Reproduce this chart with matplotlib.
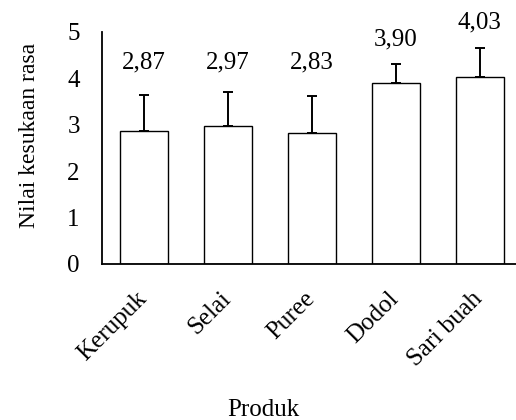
import matplotlib
matplotlib.use("Agg")
import matplotlib.pyplot as plt
import matplotlib.transforms as mtransforms
import numpy as np

plt.rcParams["font.family"] = ["Liberation Serif", "DejaVu Serif"]

produk = ["Kerupuk", "Selai", "Puree", "Dodol", "Sari buah"]
nilai = [2.87, 2.97, 2.83, 3.90, 4.03]
sd = [0.77, 0.73, 0.80, 0.41, 0.63]
label_nilai = ["2,87", "2,97", "2,83", "3,90", "4,03"]

x = np.arange(len(produk))
width = 0.57

fig = plt.figure(figsize=(5.16, 4.2), dpi=100)
ax = fig.add_axes([102 / 516, 156 / 420, 414 / 516, 232 / 420])

ax.bar(x, nilai, width, color="none", edgecolor="black", linewidth=1.0)
ax.errorbar(x, nilai, yerr=[np.zeros(len(sd)), sd], fmt="none",
            ecolor="black", elinewidth=1.4, capsize=3.6, capthick=1.4)

# value labels above the error bars
for xi, v, s, lab in zip(x, nilai, sd, label_nilai):
    ax.text(xi, max(v + s + 0.54, 4.35), lab, ha="center", va="center",
            fontsize=18)

ax.set_xlim(-0.5, 4.43)
ax.set_ylim(0, 5)
ax.set_yticks([0, 1, 2, 3, 4, 5])
ax.set_xticks(x)
ax.set_xticklabels(produk, rotation=45, ha="right", va="top", fontsize=18)

ax.tick_params(axis="both", length=0, labelsize=18)
ax.tick_params(axis="y", pad=16)
ax.tick_params(axis="x", pad=17)

# nudge the slanted labels to the right
offset = mtransforms.ScaledTranslation(7 / 100, 0, fig.dpi_scale_trans)
for t in ax.get_xticklabels():
    t.set_transform(t.get_transform() + offset)

ax.spines["top"].set_visible(False)
ax.spines["right"].set_visible(False)
ax.spines["left"].set_linewidth(1.3)
ax.spines["bottom"].set_linewidth(1.3)

fig.text(30 / 516, 1 - 135 / 420, "Nilai kesukaan rasa", rotation=90,
         ha="center", va="center", fontsize=17)
fig.text(263 / 516, 1 - 410 / 420, "Produk", ha="center", va="center",
         fontsize=18)

fig.savefig("out.png", dpi=100)
